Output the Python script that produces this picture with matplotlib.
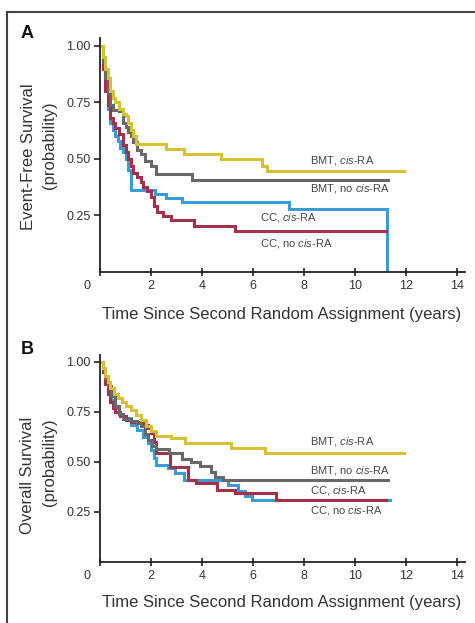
import matplotlib
matplotlib.use("Agg")
import matplotlib.pyplot as plt
from matplotlib import font_manager
from matplotlib.lines import Line2D
from matplotlib.transforms import ScaledTranslation

# Kaplan-Meier style curves (time in years, survival probability)

# panel A, event-free survival
efs_bmt_cis_t = [0, 0.1, 0.2, 0.3, 0.4, 0.5, 0.6, 0.75, 0.9, 1.0, 1.1, 1.2, 1.3, 1.4, 2.6, 3.3, 4.75, 6.35, 6.55, 11.9]
efs_bmt_cis_s = [1.0, 0.95, 0.9, 0.86, 0.8, 0.77, 0.75, 0.72, 0.70, 0.69, 0.66, 0.63, 0.60, 0.564, 0.545, 0.523, 0.50, 0.471, 0.446, 0.446]

efs_bmt_no_t = [0, 0.1, 0.2, 0.3, 0.4, 0.5, 0.75, 0.9, 1.0, 1.1, 1.2, 1.3, 1.45, 1.6, 1.75, 2.0, 2.2, 3.6, 11.3]
efs_bmt_no_s = [1.0, 0.93, 0.86, 0.79, 0.74, 0.715, 0.71, 0.66, 0.64, 0.62, 0.60, 0.575, 0.54, 0.52, 0.493, 0.47, 0.434, 0.405, 0.405]

efs_cc_cis_t = [0, 0.1, 0.2, 0.3, 0.4, 0.5, 0.6, 0.7, 0.8, 0.9, 1.0, 1.1, 1.2, 2.15, 2.6, 3.2, 7.4, 11.25, 11.25]
efs_cc_cis_s = [1.0, 0.9, 0.8, 0.72, 0.66, 0.63, 0.60, 0.58, 0.55, 0.53, 0.50, 0.45, 0.363, 0.345, 0.327, 0.308, 0.279, 0.279, 0.0]

efs_cc_no_t = [0, 0.1, 0.2, 0.3, 0.4, 0.5, 0.6, 0.75, 0.9, 1.0, 1.1, 1.2, 1.3, 1.45, 1.6, 1.7, 1.85, 2.0, 2.1, 2.25, 2.45, 2.8, 3.7, 5.3, 11.2]
efs_cc_no_s = [1.0, 0.9, 0.8, 0.74, 0.68, 0.66, 0.635, 0.61, 0.56, 0.53, 0.50, 0.47, 0.44, 0.42, 0.40, 0.375, 0.36, 0.33, 0.29, 0.264, 0.249, 0.23, 0.204, 0.182, 0.182]

# panel B, overall survival
os_bmt_cis_t = [0, 0.1, 0.2, 0.3, 0.4, 0.55, 0.7, 0.85, 1.0, 1.2, 1.4, 1.6, 1.8, 2.0, 2.2, 2.8, 3.33, 5.15, 6.47, 11.9]
os_bmt_cis_s = [1.0, 0.97, 0.93, 0.9, 0.87, 0.84, 0.82, 0.80, 0.78, 0.76, 0.735, 0.71, 0.68, 0.655, 0.632, 0.62, 0.595, 0.57, 0.543, 0.543]

os_bmt_no_t = [0, 0.1, 0.2, 0.3, 0.45, 0.6, 0.75, 0.9, 1.2, 1.45, 1.6, 1.75, 1.9, 2.05, 2.2, 2.7, 3.2, 3.55, 3.9, 4.35, 4.5, 4.8, 11.3]
os_bmt_no_s = [1.0, 0.96, 0.92, 0.88, 0.83, 0.78, 0.74, 0.715, 0.705, 0.695, 0.68, 0.64, 0.61, 0.58, 0.565, 0.545, 0.515, 0.50, 0.48, 0.45, 0.425, 0.41, 0.41]

os_cc_cis_t = [0, 0.1, 0.2, 0.3, 0.45, 0.6, 0.75, 0.9, 1.2, 1.45, 1.7, 1.9, 2.0, 2.1, 2.2, 2.65, 2.95, 3.3, 5.0, 5.4, 5.7, 5.95, 11.35]
os_cc_cis_s = [1.0, 0.95, 0.9, 0.86, 0.81, 0.77, 0.74, 0.72, 0.685, 0.66, 0.625, 0.595, 0.56, 0.52, 0.485, 0.47, 0.445, 0.41, 0.385, 0.355, 0.33, 0.31, 0.31]

os_cc_no_t = [0, 0.1, 0.2, 0.3, 0.4, 0.5, 0.6, 0.8, 1.0, 1.2, 1.5, 1.75, 1.9, 2.0, 2.1, 2.2, 2.75, 3.45, 3.75, 4.6, 5.3, 6.9, 11.2]
os_cc_no_s = [1.0, 0.95, 0.89, 0.84, 0.80, 0.77, 0.75, 0.73, 0.71, 0.70, 0.695, 0.685, 0.67, 0.645, 0.60, 0.545, 0.475, 0.41, 0.395, 0.36, 0.343, 0.31, 0.31]

group_names = ["BMT, $\\it{cis}$-RA", "BMT, no $\\it{cis}$-RA", "CC, $\\it{cis}$-RA", "CC, no $\\it{cis}$-RA"]
colors = ["#d8c035", "#686868", "#3a9bd8", "#a6304a"]

yticks = [0.25, 0.50, 0.75, 1.00]
ytick_labels = ["0.25", "0.50", "0.75", "1.00"]
xticks = [0, 2, 4, 6, 8, 10, 12, 14]

names = {f.name for f in font_manager.fontManager.ttflist}
if "Liberation Sans Narrow" in names:
    big_font = "Liberation Sans Narrow"
    big_size = 14.2
else:
    big_font = "Liberation Sans"
    big_size = 12

plt.rcParams["font.family"] = ["Liberation Sans", "DejaVu Sans"]
plt.rcParams["mathtext.fontset"] = "custom"
plt.rcParams["mathtext.rm"] = "Liberation Sans"
plt.rcParams["mathtext.it"] = "Liberation Sans:italic"

W, H = 475, 623
fig = plt.figure(figsize=(W / 100, H / 100), dpi=100)

axA = fig.add_axes([100 / W, 1 - 272 / H, 365 / W, 234 / H])
axB = fig.add_axes([100 / W, 1 - 562 / H, 365 / W, 207 / H])

curvesA = [(efs_bmt_cis_t, efs_bmt_cis_s), (efs_bmt_no_t, efs_bmt_no_s),
           (efs_cc_cis_t, efs_cc_cis_s), (efs_cc_no_t, efs_cc_no_s)]
curvesB = [(os_bmt_cis_t, os_bmt_cis_s), (os_bmt_no_t, os_bmt_no_s),
           (os_cc_cis_t, os_cc_cis_s), (os_cc_no_t, os_cc_no_s)]

# label anchor points (data coords)
labposA = [(8.24, 0.493), (8.24, 0.370), (6.27, 0.240), (6.27, 0.128)]
labposB = [(8.24, 0.600), (8.24, 0.456), (8.24, 0.356), (8.24, 0.256)]

order = [2, 3, 1, 0]  # draw blue, red, gray, yellow
for ax, curves, labpos in [(axA, curvesA, labposA), (axB, curvesB, labposB)]:
    for i in order:
        t, s = curves[i]
        ax.step(t, s, where="post", color=colors[i], lw=2.2, solid_joinstyle="miter")
    for i in range(4):
        ax.text(labpos[i][0], labpos[i][1], group_names[i], fontsize=8, color="#444444",
                ha="left", va="center")
    ax.set_xlim(0, 14.3)
    ax.set_ylim(0, 1.035)
    for side in ["top", "right"]:
        ax.spines[side].set_visible(False)
    for side in ["left", "bottom"]:
        ax.spines[side].set_linewidth(1.3)
        ax.spines[side].set_color("#222222")
    ax.set_yticks(yticks)
    ax.set_yticklabels(ytick_labels)
    ax.set_xticks(xticks)
    ax.set_xticklabels([str(x) for x in xticks])
    ax.tick_params(axis="y", direction="out", length=4, width=1.2, labelsize=9,
                   color="#222222", labelcolor="#333333", pad=3)
    ax.tick_params(axis="x", direction="inout", length=6, width=1.2, labelsize=9,
                   color="#222222", labelcolor="#333333", pad=3)
    # the "0" sits left of the corner
    lab0 = ax.get_xticklabels()[0]
    lab0.set_transform(lab0.get_transform() + ScaledTranslation(-0.13, 0, fig.dpi_scale_trans))

xlab = "Time Since Second Random Assignment (years)"
fig.text(282 / W, 1 - 315 / H, xlab, fontsize=big_size, family=big_font, color="#333333",
         ha="center", va="center")
fig.text(282 / W, 1 - 603 / H, xlab, fontsize=big_size, family=big_font, color="#333333",
         ha="center", va="center")

fig.text(29 / W, 1 - 157 / H, "Event-Free Survival", fontsize=big_size, family=big_font,
         color="#333333", rotation=90, ha="center", va="center")
fig.text(50 / W, 1 - 145 / H, "(probability)", fontsize=big_size, family=big_font,
         color="#333333", rotation=90, ha="center", va="center")
fig.text(28 / W, 1 - 475 / H, "Overall Survival", fontsize=big_size, family=big_font,
         color="#333333", rotation=90, ha="center", va="center")
fig.text(50 / W, 1 - 462 / H, "(probability)", fontsize=big_size, family=big_font,
         color="#333333", rotation=90, ha="center", va="center")

fig.text(27 / W, 1 - 33 / H, "A", fontsize=13, fontweight="bold", color="#111111",
         ha="center", va="center")
fig.text(27 / W, 1 - 350 / H, "B", fontsize=13, fontweight="bold", color="#111111",
         ha="center", va="center")

# outer frame (top and left edges only are visible)
fig.add_artist(Line2D([7 / W, 7 / W], [0, 1 - 12 / H], transform=fig.transFigure,
                      color="#444444", lw=1.5))
fig.add_artist(Line2D([7 / W, 1], [1 - 12 / H, 1 - 12 / H], transform=fig.transFigure,
                      color="#444444", lw=1.5))

fig.savefig("out.png", dpi=100)
